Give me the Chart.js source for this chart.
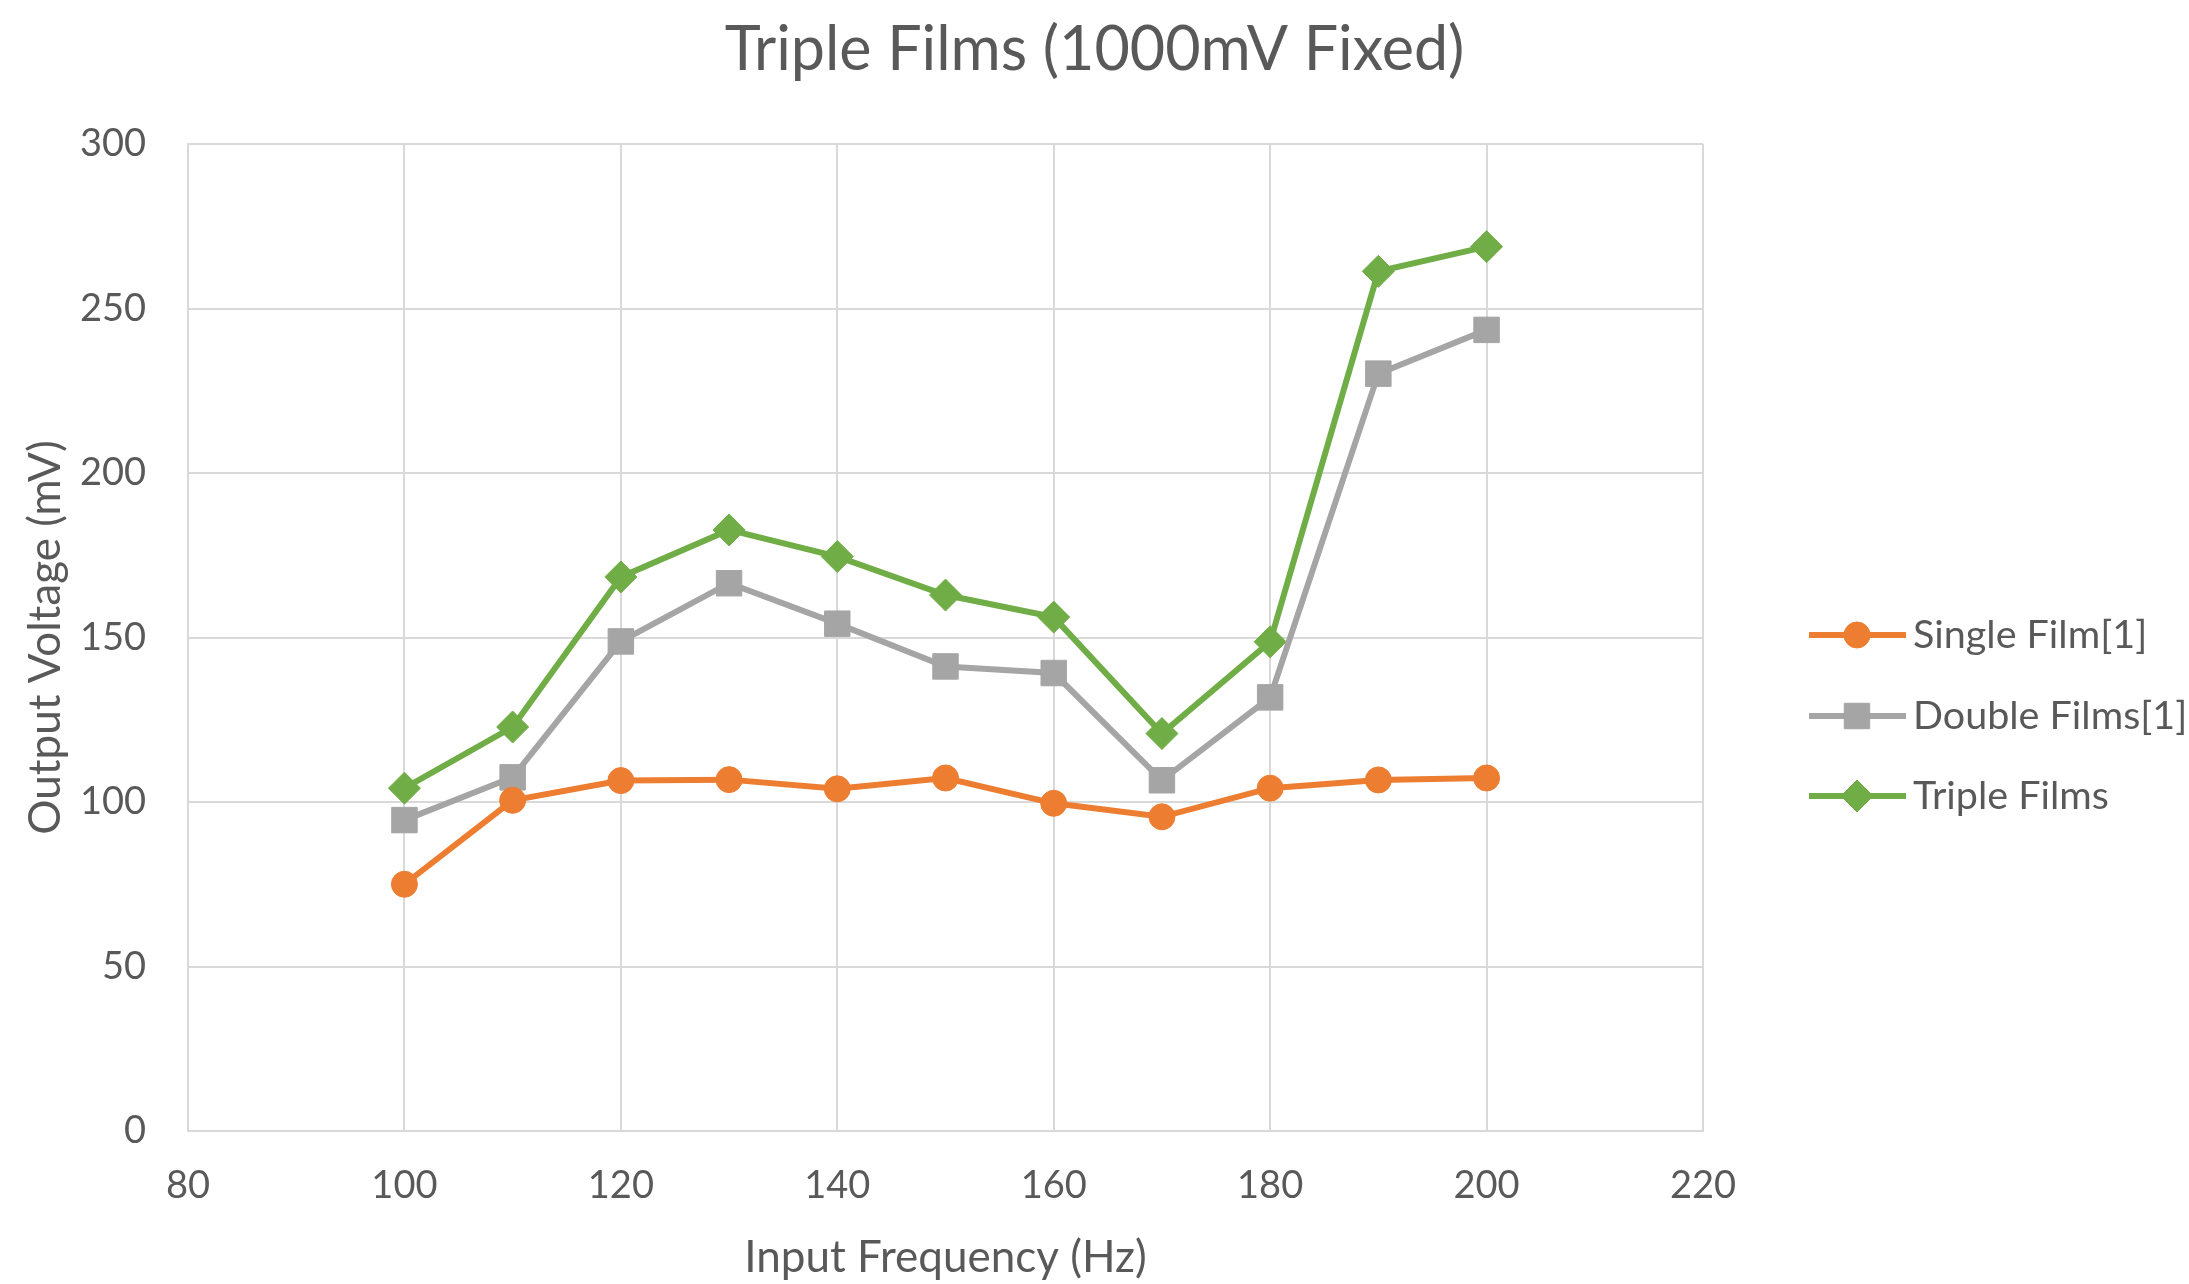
<!DOCTYPE html>
<html>
<head>
<meta charset="utf-8">
<title>Triple Films (1000mV Fixed)</title>
<script src="https://cdn.jsdelivr.net/npm/chart.js@4.4.1/dist/chart.umd.min.js"></script>
<style>
  html, body { margin: 0; padding: 0; background: #fff; }
  #wrap { width: 2189px; height: 1284px; }
</style>
</head>
<body>
<div id="wrap"><canvas id="chart" width="2189" height="1284"></canvas></div>
<script>
var frequency = [100, 110, 120, 130, 140, 150, 160, 170, 180, 190, 200];
var singleFilm = [75, 100.5, 106.5, 106.8, 104, 107.3, 99.6, 95.5, 104.2, 106.7, 107.3];
var doubleFilms = [94.5, 107.5, 148.8, 166.5, 154.2, 141.2, 139.2, 106.6, 131.8, 230.2, 243.5];
var tripleFilms = [104.2, 122.8, 168.4, 182.7, 174.6, 162.9, 156.2, 120.8, 148.7, 261.3, 268.8];
var xTicks = [80, 100, 120, 140, 160, 180, 200, 220];
var yTicks = [0, 50, 100, 150, 200, 250, 300];

var textColor = '#595959';
var gridColor = '#d9d9d9';
var fontFamily = 'Lato, "Liberation Sans", sans-serif';

function toPoints(values) {
  return values.map(function(v, i) {
    return { x: frequency[i], y: v };
  });
}

function series(label, values, color, style, radius) {
  return {
    label: label,
    data: toPoints(values),
    borderColor: color,
    backgroundColor: color,
    borderWidth: 6,
    pointStyle: style,
    pointRadius: radius,
    pointHoverRadius: radius,
    pointBorderWidth: 1,
    pointBackgroundColor: color,
    pointBorderColor: color,
    tension: 0
  };
}

// title and line+marker legend drawn straight onto the canvas
var decorations = {
  id: 'decorations',
  afterDraw: function(chart) {
    var ctx = chart.ctx;
    ctx.save();
    ctx.fillStyle = textColor;
    ctx.textAlign = 'center';
    ctx.textBaseline = 'middle';
    ctx.font = '61px ' + fontFamily;
    ctx.fillText('Triple Films (1000mV Fixed)', chart.width / 2, 50);

    var rows = [635, 716, 796];
    chart.data.datasets.forEach(function(ds, i) {
      var y = rows[i];
      ctx.strokeStyle = ds.borderColor;
      ctx.lineWidth = ds.borderWidth;
      ctx.beginPath();
      ctx.moveTo(1809, y);
      ctx.lineTo(1906, y);
      ctx.stroke();
      ctx.fillStyle = ds.pointBackgroundColor;
      ctx.strokeStyle = ds.pointBorderColor;
      ctx.lineWidth = 1;
      Chart.helpers.drawPoint(ctx, {
        pointStyle: ds.pointStyle,
        radius: ds.pointRadius,
        rotation: 0,
        borderWidth: 1
      }, 1857, y);
      ctx.fillStyle = textColor;
      ctx.textAlign = 'left';
      ctx.font = '39.5px ' + fontFamily;
      ctx.fillText(ds.label, 1913, y);
    });
    ctx.restore();
  }
};

var ctx = document.getElementById('chart').getContext('2d');
var chart = new Chart(ctx, {
  type: 'line',
  data: {
    datasets: [
      series('Single Film[1]', singleFilm, '#ed7d31', 'circle', 13),
      series('Double Films[1]', doubleFilms, '#a5a5a5', 'rect', 18),
      series('Triple Films', tripleFilms, '#70ad47', 'rectRot', 16)
    ]
  },
  options: {
    responsive: false,
    animation: false,
    layout: { padding: { top: 144, right: 486, left: 0, bottom: 0 } },
    plugins: {
      legend: { display: false },
      title: { display: false },
      tooltip: { enabled: false }
    },
    scales: {
      x: {
        type: 'linear',
        min: 80,
        max: 220,
        afterBuildTicks: function(scale) {
          scale.ticks = xTicks.map(function(v) { return { value: v }; });
        },
        afterFit: function(scale) {
          scale.height = 153;
          scale.paddingLeft = 0;
          scale.paddingRight = 0;
        },
        grid: { color: gridColor, lineWidth: 2, drawTicks: false },
        border: { color: gridColor, width: 2 },
        ticks: {
          color: textColor,
          padding: 32,
          font: { family: fontFamily, size: 38 }
        },
        title: {
          display: true,
          text: 'Input Frequency (Hz)',
          color: textColor,
          padding: { top: 0, bottom: 0 },
          font: { family: fontFamily, size: 44 }
        }
      },
      y: {
        type: 'linear',
        min: 0,
        max: 300,
        afterBuildTicks: function(scale) {
          scale.ticks = yTicks.map(function(v) { return { value: v }; });
        },
        afterFit: function(scale) {
          scale.width = 188;
          scale.paddingTop = 0;
          scale.paddingBottom = 0;
        },
        grid: { color: gridColor, lineWidth: 2, drawTicks: false },
        border: { color: gridColor, width: 2 },
        ticks: {
          color: textColor,
          padding: 42,
          font: { family: fontFamily, size: 38 }
        },
        title: {
          display: true,
          text: 'Output Voltage (mV)',
          color: textColor,
          padding: { top: 19, bottom: 0 },
          font: { family: fontFamily, size: 44 }
        }
      }
    }
  },
  plugins: [decorations]
});
</script>
</body>
</html>
